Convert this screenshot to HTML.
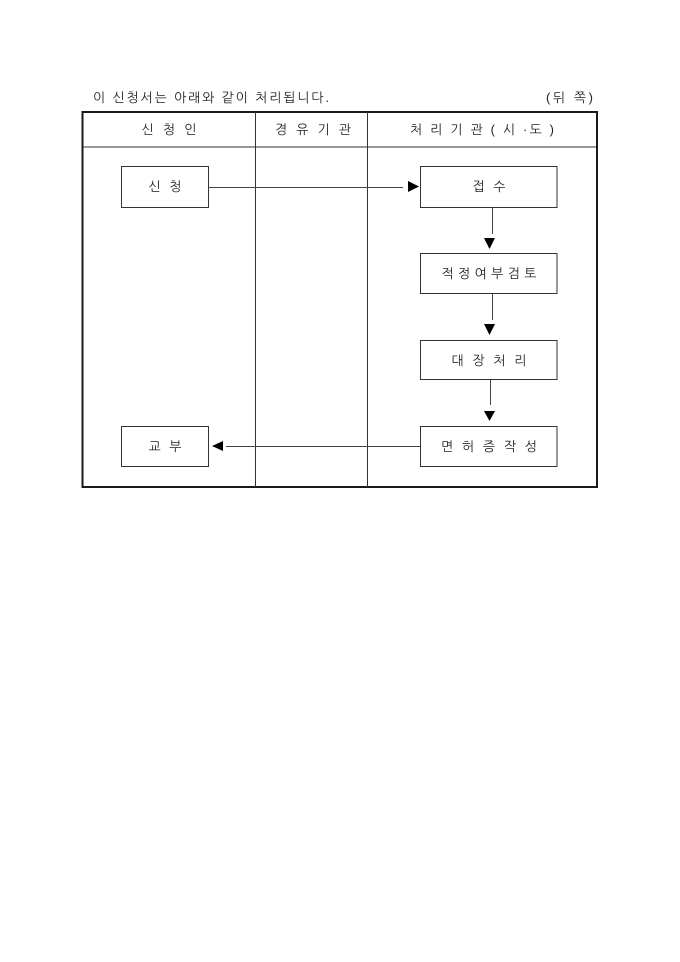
<!DOCTYPE html>
<html lang="ko"><head><meta charset="utf-8">
<style>
html,body{margin:0;padding:0;background:#fff}
#p{position:relative;width:680px;height:962px;overflow:hidden;background:#fff}
svg{position:absolute;left:0;top:0}
text{font-family:"Liberation Sans","NanumGothic","Noto Sans CJK KR",sans-serif;font-size:13px;fill:#222;text-anchor:middle}
</style></head><body><div id="p">
<svg width="680" height="962" viewBox="0 0 680 962">
<rect x="82.5" y="112" width="514.5" height="375" fill="none" stroke="#1a1a1a" stroke-width="2"/>
<g stroke="#333" stroke-width="1" fill="none" shape-rendering="crispEdges">
<path d="M83 147H596M255.5 112V487M367.5 112V487"/>
</g>
<g stroke="#333" stroke-width="1" fill="#fff" shape-rendering="crispEdges">
<rect x="121.5" y="166.5" width="87" height="41"/>
<rect x="420.5" y="166.5" width="136.500" height="41"/>
<rect x="420.5" y="253.5" width="136.500" height="40"/>
<rect x="420.5" y="340.5" width="136.500" height="39"/>
<rect x="420.5" y="426.5" width="136.500" height="40"/>
<rect x="121.5" y="426.5" width="87" height="40"/>
</g>
<g stroke="#444" stroke-width="1" fill="none" shape-rendering="crispEdges">
<path d="M209 187.5H403M492.5 208V234M492.5 294V320M490.5 380V405M226 446.5H420"/>
</g>
<g fill="#000">
<path d="M408 181L419 186.5L408 192Z"/>
<path d="M484 238H495L489.500 249Z"/>
<path d="M484 324H495L489.500 335Z"/>
<path d="M484 411H495L489.500 421Z"/>
<path d="M212 446L223 441V451Z"/>
</g>
<text x="211" y="102" textLength="236" lengthAdjust="spacing">이 신청서는 아래와 같이 처리됩니다.</text>
<text x="569.5" y="102" textLength="47" lengthAdjust="spacing">(뒤 쪽)</text>
<text x="169" y="134" textLength="55" lengthAdjust="spacing">신 청 인</text>
<text x="313" y="134" textLength="76" lengthAdjust="spacing">경 유 기 관</text>
<text x="482" y="134" textLength="144" lengthAdjust="spacing">처 리 기 관 ( 시 ·도 )</text>
<text x="165" y="191" textLength="33" lengthAdjust="spacing">신 청</text>
<text x="489" y="191" textLength="33" lengthAdjust="spacing">접 수</text>
<text x="489" y="278" textLength="95" lengthAdjust="spacing">적정여부검토</text>
<text x="489" y="365" textLength="75" lengthAdjust="spacing">대 장 처 리</text>
<text x="489" y="451" textLength="96" lengthAdjust="spacing">면 허 증 작 성</text>
<text x="165" y="451" textLength="33" lengthAdjust="spacing">교 부</text>
</svg>
</div></body></html>
